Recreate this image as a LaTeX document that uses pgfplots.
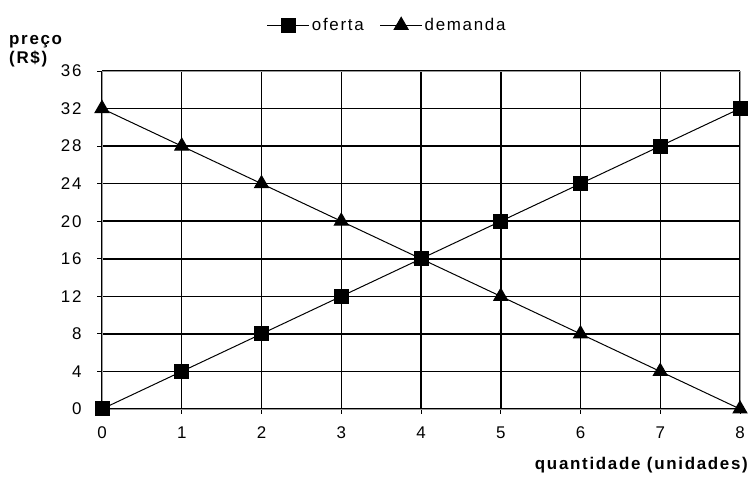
\documentclass[border=0pt]{standalone}
\usepackage{fontspec}
\setmainfont[LetterSpace=10]{Liberation Sans}
\usepackage{pgfplots}
\pgfplotsset{compat=1.18}

\begin{document}
\begin{tikzpicture}[x=1bp,y=1bp]
\path[use as bounding box] (0,0) rectangle (750,479);
\begin{axis}[
  at={(102bp,70bp)}, anchor=south west,
  scale only axis, width=638bp, height=338bp,
  xmin=0, xmax=8, ymin=0, ymax=36,
  xtick={0,...,8}, ytick={0,4,...,36},
  grid=major,
  major grid style={black, line width=1.5pt},
  axis line style={gray!80, line width=0.8pt},
  tick style={black, line width=0.8pt},
  tick align=outside, major tick length=5bp,
  xtick pos=bottom, ytick pos=left,
  /pgf/number format/assume math mode=true,
  ticklabel style={font=\fontsize{17}{19}\selectfont},
  xticklabel style={yshift=-9bp},
  yticklabel style={xshift=-12bp},
  legend style={draw=none, fill=none, at={(0.447,1.135)}, anchor=center,
    legend columns=2, font=\fontsize{17}{19}\selectfont,
    /tikz/every even column/.append style={column sep=14bp}},
  legend image code/.code={
    \draw[mark repeat=2, mark phase=2] plot coordinates {(0bp,0bp) (21bp,0bp) (42bp,0bp)};},
  clip=false,
]
\addplot[black, line width=1pt, mark=square*, mark size=7bp,
  mark options={fill=black}] coordinates {
  (0,0) (1,4) (2,8) (3,12) (4,16) (5,20) (6,24) (7,28) (8,32)};
\addlegendentry{oferta}
\addplot[black, line width=1pt, mark=triangle*, mark size=8bp,
  mark options={fill=black}] coordinates {
  (0,32) (1,28) (2,24) (3,20) (4,16) (5,12) (6,8) (7,4) (8,0)};
\addlegendentry{demanda}
\end{axis}
\node[anchor=west, align=left, font=\fontsize{17}{19}\selectfont\bfseries,
  inner sep=0pt] at (9,428) {preço\\(R\$)};
\node[anchor=east, font=\fontsize{17}{19}\selectfont\bfseries, inner sep=0pt]
  at (748,14) {quantidade (unidades)};
\end{tikzpicture}
\end{document}
